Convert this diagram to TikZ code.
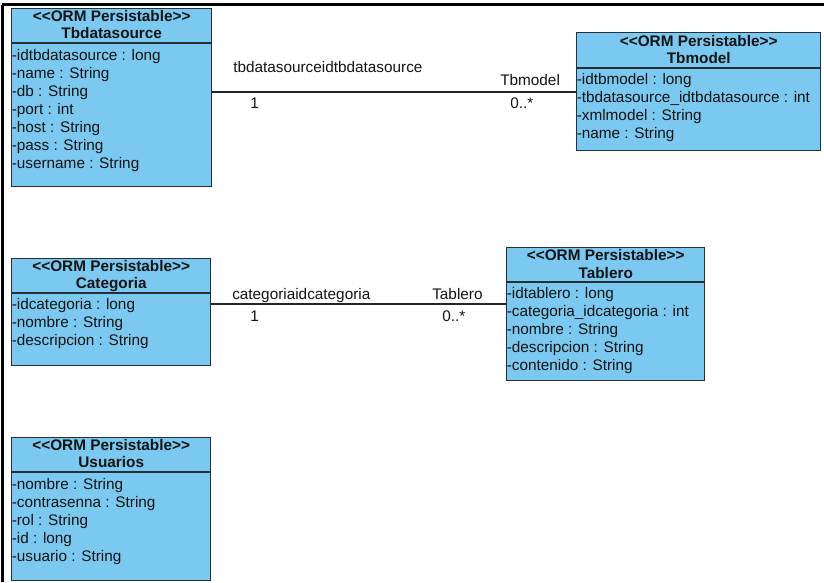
\documentclass[tikz,border=0pt]{standalone}
\usepackage{fontspec}
\setmainfont{Liberation Sans}
\definecolor{classfill}{RGB}{123,200,240}
\definecolor{classline}{RGB}{38,46,54}
\definecolor{ink}{RGB}{20,20,20}
\newcommand{\stereotype}{<{}<ORM Persistable>{}>}
\begin{document}
\begin{tikzpicture}[x=0.75pt,y=-0.75pt,
  classbox/.style={draw=classline, fill=classfill, line width=1.1pt, inner sep=0pt, anchor=north west},
  sepline/.style={draw=classline, line width=1pt},
  stereo/.style={font=\fontsize{11.5}{13}\selectfont\bfseries, text=ink, anchor=base, inner sep=0pt},
  attr/.style={font=\fontsize{11.5}{13}\selectfont, text=ink, anchor=base west, inner sep=0pt},
  rolelabel/.style={font=\fontsize{11.5}{13}\selectfont, text=ink, anchor=base west, inner sep=0pt},
  assoc/.style={draw=black!85, line width=0.9pt}]
\useasboundingbox (0,0) rectangle (824,582);
\fill[white] (0,0) rectangle (824,582);

% outer frame (left and top edges)
\draw[line width=2.2pt] (2.5,582) -- (2.5,4.5);
\draw[line width=1.8pt] (1.5,4.5) -- (824,4.5);

% ---- Tbdatasource ----
\node[classbox, minimum width=150pt, minimum height=133.5pt] (tbds) at (11,8) {};
\draw[sepline] (tbds.west |- 0,43) -- (tbds.east |- 0,43);
\node[stereo] (tbds-st) at (tbds.north |- 0,21) {\stereotype};
\node[stereo] (tbds-nm) at (tbds.north |- 0,38) {Tbdatasource};
\foreach \t [count=\i] in {-idtbdatasource : long, -name : String, -db : String, -port : int, -host : String, -pass : String, -username : String}
  \node[attr] (tbds-a\i) at (11.5, 60+18*\i-18) {\t};

% ---- Tbmodel ----
\node[classbox, minimum width=183pt, minimum height=88.5pt] (tbmodel) at (576,32) {};
\draw[sepline] (tbmodel.west |- 0,68) -- (tbmodel.east |- 0,68);
\node[stereo] (tbmodel-st) at (tbmodel.north |- 0,46) {\stereotype};
\node[stereo] (tbmodel-nm) at (tbmodel.north |- 0,63) {Tbmodel};
\foreach \t [count=\i] in {-idtbmodel : long, -tbdatasource\_idtbdatasource : int, -xmlmodel : String, -name : String}
  \node[attr] (tbmodel-a\i) at (576.5, 84+18*\i-18) {\t};

% ---- Categoria ----
\node[classbox, minimum width=149.25pt, minimum height=80.25pt] (categoria) at (11,258) {};
\draw[sepline] (categoria.west |- 0,293) -- (categoria.east |- 0,293);
\node[stereo] (categoria-st) at (categoria.north |- 0,271) {\stereotype};
\node[stereo] (categoria-nm) at (categoria.north |- 0,288) {Categoria};
\foreach \t [count=\i] in {-idcategoria : long, -nombre : String, -descripcion : String}
  \node[attr] (categoria-a\i) at (11.5, 309+18*\i-18) {\t};

% ---- Tablero ----
\node[classbox, minimum width=148.5pt, minimum height=99.75pt] (tablero) at (506,247) {};
\draw[sepline] (tablero.west |- 0,282) -- (tablero.east |- 0,282);
\node[stereo] (tablero-st) at (tablero.north |- 0,260) {\stereotype};
\node[stereo] (tablero-nm) at (tablero.north |- 0,278) {Tablero};
\foreach \t [count=\i] in {-idtablero : long, -categoria\_idcategoria : int, -nombre : String, -descripcion : String, -contenido : String}
  \node[attr] (tablero-a\i) at (506.5, 298+18*\i-18) {\t};

% ---- Usuarios ----
\node[classbox, minimum width=149.25pt, minimum height=107.25pt] (usuarios) at (11,437) {};
\draw[sepline] (usuarios.west |- 0,472) -- (usuarios.east |- 0,472);
\node[stereo] (usuarios-st) at (usuarios.north |- 0,450) {\stereotype};
\node[stereo] (usuarios-nm) at (usuarios.north |- 0,467) {Usuarios};
\foreach \t [count=\i] in {-nombre : String, -contrasenna : String, -rol : String, -id : long, -usuario : String}
  \node[attr] (usuarios-a\i) at (11.5, 489+18*\i-18) {\t};

% ---- associations ----
\coordinate (row1) at (0,92);
\draw[assoc] (tbds.east |- row1) -- (tbmodel.west |- row1);
\node[rolelabel] (r1name) at (233,72) {tbdatasourceidtbdatasource};
\node[rolelabel] (r1role) at (500,85) {Tbmodel};
\node[rolelabel] (r1one) at (250,108) {1};
\node[rolelabel] (r1many) at (510,108) {0..*};

\coordinate (row2) at (0,304);
\draw[assoc] (categoria.east |- row2) -- (tablero.west |- row2);
\node[rolelabel] (r2name) at (232,299) {categoriaidcategoria};
\node[rolelabel] (r2role) at (432,299) {Tablero};
\node[rolelabel] (r2one) at (250,321) {1};
\node[rolelabel] (r2many) at (442,321) {0..*};
\end{tikzpicture}
\end{document}
